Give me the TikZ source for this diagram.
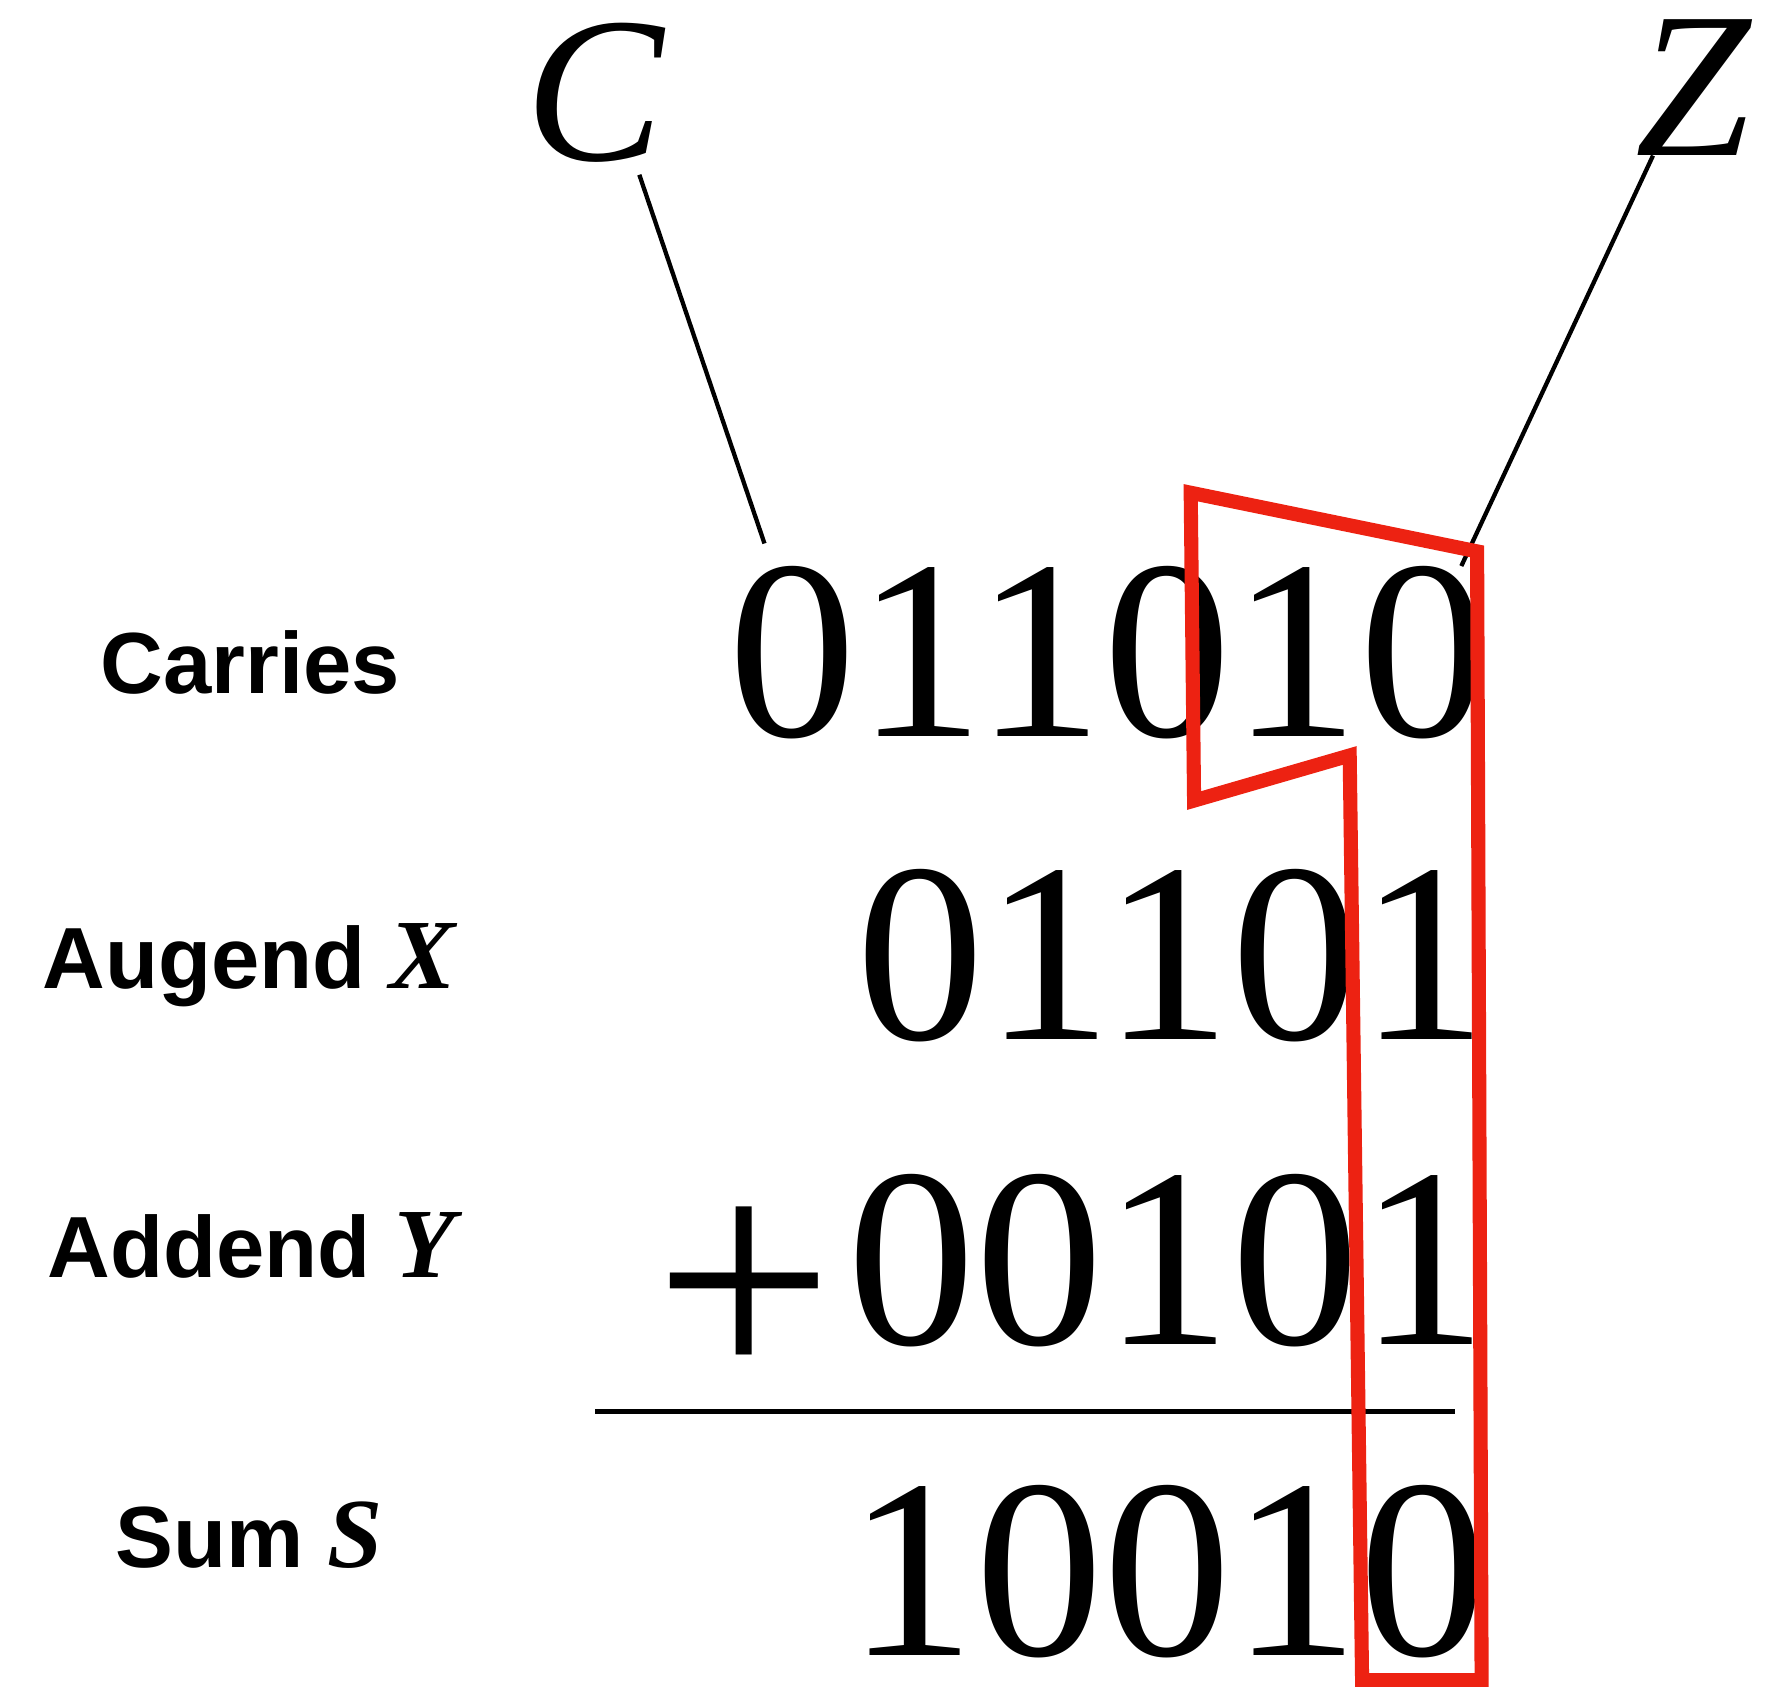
\documentclass[tikz,border=0pt]{standalone}
\usepackage{fontspec}
\setmainfont{Liberation Serif}
\newfontfamily\lsans{Liberation Sans}
\newfontfamily\lserif{Liberation Serif}
\definecolor{boxred}{RGB}{237,34,18}
\newcommand\vlet[1]{{\lserif\itshape\fontsize{88}{88}\selectfont #1}}
\begin{document}
\begin{tikzpicture}[x=1pt,y=-1pt,
  digits/.style={inner sep=0pt, anchor=base east, font=\lserif\fontsize{227}{227}\selectfont},
  plussign/.style={inner sep=0pt, anchor=center, font=\lserif\fontsize{282}{282}\selectfont},
  lab/.style={inner sep=0pt, anchor=base, font=\lsans\bfseries\fontsize{77}{77}\selectfont},
  bigvar/.style={inner sep=0pt, anchor=base, font=\lserif\itshape\fontsize{184}{184}\selectfont},
  leader/.style={draw=black, line width=3.8pt},
  sumrule/.style={draw=black, line width=4.5pt},
  redpath/.style={draw=boxred, line width=12.5pt, line join=miter}]
\useasboundingbox (0,0) rectangle (1568,1496);
% big variable letters
\node[bigvar] (C) at (527,142) {C};
\node[bigvar] (Z) at (1502,138) {Z};
% row labels
\node[lab] (lcar) at (222,615) {Carries};
\node[lab] (laug) at (221,877) {Augend \vlet{X}};
\node[lab] (ladd) at (223,1133) {Addend \vlet{Y}};
\node[lab] (lsum) at (221,1390) {Sum \vlet{S}};
% digit rows
\node[digits] (car) at (1319,653) {011010};
\node[digits] (aug) at (1319,922) {01101};
\node[digits] (add) at (1319,1192) {00101};
\node[plussign] (plus) at (660,1150) {+};
\node[digits] (sum) at (1319,1468) {10010};
% rule
\coordinate (ruleL) at (528,1252);
\coordinate (ruleR) at (1290,1252);
\draw[sumrule] (ruleL) -- (ruleR);
% leader lines
\coordinate (cTop) at (567,155);
\coordinate (cBot) at (678,482);
\coordinate (zTop) at (1466,138);
\coordinate (zBot) at (1296,502);
\draw[leader] (cTop) -- (cBot);
\draw[leader] (zTop) -- (zBot);
% red outline
\coordinate (r1) at (1056,437);
\coordinate (r2) at (1310,489);
\coordinate (r3) at (1314,1490);
\coordinate (r4) at (1208,1490);
\coordinate (r5) at (1197,670);
\coordinate (r6) at (1059,710);
\draw[redpath] (r1) -- (r2) -- (r3) -- (r4) -- (r5) -- (r6) -- cycle;
\end{tikzpicture}
\end{document}
